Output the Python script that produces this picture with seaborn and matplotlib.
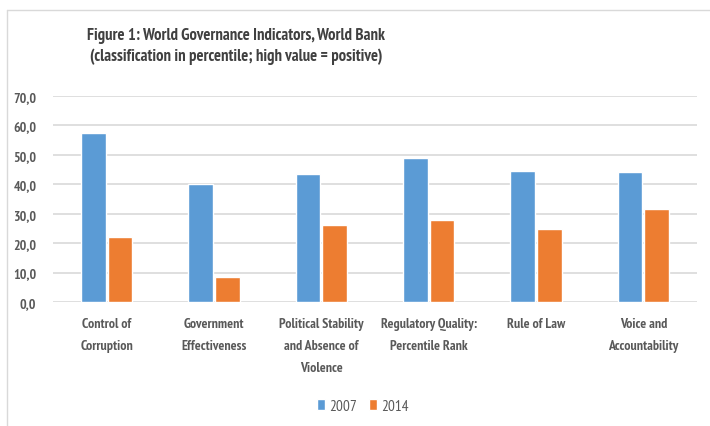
import matplotlib
matplotlib.use('Agg')
import matplotlib.pyplot as plt
import matplotlib.ticker as mticker
import numpy as np
import pandas as pd
import seaborn as sns


# Values (percentile rank)
categories = ['Control of\nCorruption',
              'Government\nEffectiveness',
              'Political Stability\nand Absence of\nViolence',
              'Regulatory Quality:\nPercentile Rank',
              'Rule of Law',
              'Voice and\nAccountability']
years = ['2007', '2014']
values_2007 = [57.3, 40.2, 43.4, 48.9, 44.5, 44.2]
values_2014 = [22.0, 8.5, 26.1, 27.8, 24.8, 31.5]
yticks = [0, 10, 20, 30, 40, 50, 60, 70]

palette = {'2007': '#5B9BD5', '2014': '#ED7D31'}


def build_frame():
    rows = []
    for cat, v1, v2 in zip(categories, values_2007, values_2014):
        rows.append({'indicator': cat, 'year': years[0], 'value': v1})
        rows.append({'indicator': cat, 'year': years[1], 'value': v2})
    return pd.DataFrame(rows)


if __name__ == "__main__":

    sns.set_style('white')
    plt.rcParams['font.family'] = ['PT Sans Narrow', 'DejaVu Sans']

    df = build_frame()

    fig = plt.figure(figsize=(7.1, 4.27), dpi=100)
    ax = fig.add_axes([53/710, 1 - 303/427, (697 - 53)/710, (303 - 97)/427])

    sns.barplot(data=df, x='indicator', y='value', hue='year',
                palette=palette, width=0.5, gap=0.08, saturation=1,
                ax=ax, legend=True)

    ax.set_ylim(0, 70)
    ax.set_yticks(yticks)
    ax.yaxis.set_major_formatter(
        mticker.FuncFormatter(lambda v, p: '{:.1f}'.format(v).replace('.', ',')))
    ax.set_xlim(-0.5, len(categories) - 0.5)
    ax.set_xlabel('')
    ax.set_ylabel('')

    ax.grid(axis='y', color='#D9D9D9', linewidth=1.2)
    ax.set_axisbelow(True)
    sns.despine(ax=ax, left=True, top=True, right=True, bottom=True)
    ax.tick_params(axis='both', length=0, colors='#595959')
    ax.tick_params(axis='y', pad=12)
    ax.tick_params(axis='x', pad=11)
    for lbl in ax.get_yticklabels():
        lbl.set_fontsize(10)
        lbl.set_fontweight('bold')
    for lbl in ax.get_xticklabels():
        lbl.set_fontsize(10)
        lbl.set_fontweight('bold')
        lbl.set_linespacing(1.9)
        lbl.set_verticalalignment('top')

    ax.legend(loc='center', bbox_to_anchor=(363/710, 1 - 407/427),
              bbox_transform=fig.transFigure, ncol=2, frameon=False,
              handlelength=0.5, handleheight=0.7, handletextpad=0.3,
              columnspacing=0.8, prop={'size': 11},
              labelcolor='#595959')

    fig.text(236/710, 1 - 36/427,
             'Figure 1: World Governance Indicators, World Bank',
             ha='center', va='center', fontsize=12, fontweight='bold',
             color='#404040')
    fig.text(236/710, 1 - 57/427,
             '(classification in percentile; high value = positive)',
             ha='center', va='center', fontsize=12, fontweight='bold',
             color='#404040')

    # light chart-area frame (top and left edges visible in reference)
    fig.add_artist(plt.Line2D([7/710, 1], [1 - 11/427, 1 - 11/427],
                              transform=fig.transFigure, color='#D9D9D9', lw=1))
    fig.add_artist(plt.Line2D([7/710, 7/710], [0, 1 - 11/427],
                              transform=fig.transFigure, color='#D9D9D9', lw=1))

    fig.savefig('out.png', dpi=100)
    plt.close()

##EOF
